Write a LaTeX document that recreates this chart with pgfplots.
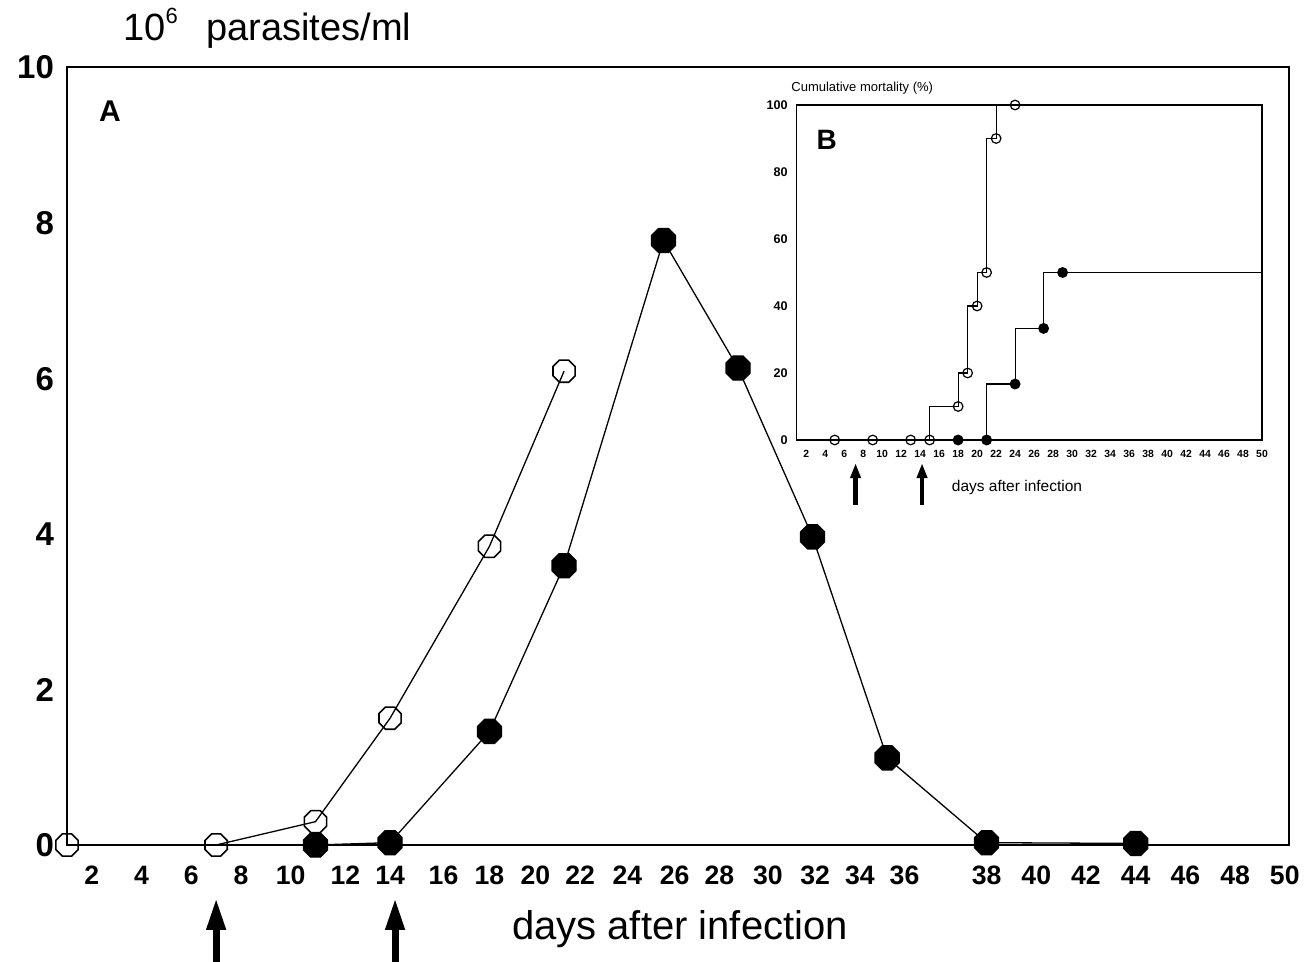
\documentclass[border=0pt]{standalone}
\usepackage{fontspec}
\setmainfont{Liberation Sans}
\usepackage{pgfplots}
\pgfplotsset{compat=1.18}
\usetikzlibrary{arrows.meta}

% flat-topped octagon marks, as in the scan
\pgfdeclareplotmark{oct}{%
  \pgfpathmoveto{\pgfpointpolar{22.5}{\pgfplotmarksize}}%
  \pgfpathlineto{\pgfpointpolar{67.5}{\pgfplotmarksize}}%
  \pgfpathlineto{\pgfpointpolar{112.5}{\pgfplotmarksize}}%
  \pgfpathlineto{\pgfpointpolar{157.5}{\pgfplotmarksize}}%
  \pgfpathlineto{\pgfpointpolar{202.5}{\pgfplotmarksize}}%
  \pgfpathlineto{\pgfpointpolar{247.5}{\pgfplotmarksize}}%
  \pgfpathlineto{\pgfpointpolar{292.5}{\pgfplotmarksize}}%
  \pgfpathlineto{\pgfpointpolar{337.5}{\pgfplotmarksize}}%
  \pgfpathclose
  \pgfusepathqstroke}
\pgfdeclareplotmark{oct*}{%
  \pgfpathmoveto{\pgfpointpolar{22.5}{\pgfplotmarksize}}%
  \pgfpathlineto{\pgfpointpolar{67.5}{\pgfplotmarksize}}%
  \pgfpathlineto{\pgfpointpolar{112.5}{\pgfplotmarksize}}%
  \pgfpathlineto{\pgfpointpolar{157.5}{\pgfplotmarksize}}%
  \pgfpathlineto{\pgfpointpolar{202.5}{\pgfplotmarksize}}%
  \pgfpathlineto{\pgfpointpolar{247.5}{\pgfplotmarksize}}%
  \pgfpathlineto{\pgfpointpolar{292.5}{\pgfplotmarksize}}%
  \pgfpathlineto{\pgfpointpolar{337.5}{\pgfplotmarksize}}%
  \pgfpathclose
  \pgfusepathqfillstroke}

\pgfplotsset{/pgf/number format/assume math mode=true}

\begin{document}
\begin{tikzpicture}
% ---- A: parasitaemia
\begin{axis}[
    at={(0,0)}, anchor=south west,
    scale only axis, width=611pt, height=389pt,
    xmin=1, xmax=50.17, ymin=0, ymax=10,
    axis line style={line width=0.7pt},
    tick style={draw=none},
    xtick={2,4,6,8,10,12.2,14,16.15,18,19.85,21.65,23.55,25.45,27.25,29.2,31.1,32.9,34.7,38,40,42,44,46,48,50},
    xticklabels={2,4,6,8,10,12,14,16,18,20,22,24,26,28,30,32,34,36,38,40,42,44,46,48,50},
    ytick={0,2,...,10},
    xticklabel style={font=\bfseries\fontsize{13.3}{13.3}\selectfont,
        text height=9.6pt, text depth=0pt, yshift=-6.7pt},
    yticklabel style={font=\bfseries\fontsize{16.5}{16.5}\selectfont,
        text height=11.9pt, text depth=0pt, xshift=-3pt},
    clip=false,
]
\addplot[black, line width=0.65pt, mark=oct, mark size=6pt,
    mark options={line width=0.8pt}]
    coordinates {(1,0) (7,0) (11,0.30) (14,1.63) (18,3.84) (21,6.09)};
\addplot[black, line width=0.65pt, mark=oct*, mark size=6.5pt,
    mark indices={3,4,5,6,7,8,9,10,11,12}]
    coordinates {(1,0) (7,0) (11,0) (14,0.03) (18,1.46) (21,3.59) (25,7.77)
                 (28,6.13) (31,3.96) (34,1.12) (38,0.03) (44,0.02)};
\draw[line width=3.5pt, -{Triangle[length=16pt, width=9pt]}]
    (axis cs:7,-1.6) -- (axis cs:7,-0.68);
\draw[line width=3.5pt, -{Triangle[length=16pt, width=9pt]}]
    (axis cs:14.2,-1.6) -- (axis cs:14.2,-0.68);
\end{axis}

% ---- B: cumulative mortality (inset)
\begin{axis}[
    at={(364.85pt,202.5pt)}, anchor=south west,
    scale only axis, width=232.65pt, height=167.5pt,
    xmin=1, xmax=50, ymin=0, ymax=100,
    axis line style={line width=0.7pt},
    tick style={draw=none},
    xtick={2,4,...,50}, ytick={0,20,...,100},
    xticklabel style={font=\bfseries\fontsize{5.2}{5.5}\selectfont,
        text height=3.8pt, text depth=0pt, yshift=-1.5pt},
    yticklabel style={font=\bfseries\fontsize{6.3}{6.5}\selectfont,
        text height=4.6pt, text depth=0pt, xshift=-1pt},
    clip=false,
]
\addplot[black, line width=0.6pt, const plot mark right, mark=o, mark size=2.4pt,
    mark options={line width=0.6pt}, mark indices={2,3,4,5,6,7,8,9,10,11}]
    coordinates {(1,0) (5,0) (9,0) (13,0) (15,0) (18,10) (19,20) (20,40)
                 (21,50) (22,90) (24,100)};
\addplot[black, line width=0.6pt, const plot mark right, mark=*, mark size=2.4pt,
    mark indices={1,2,3,4,5}]
    coordinates {(18,0) (21,0) (24,16.7) (27,33.3) (29,50) (50,50)};
\draw[line width=2.4pt, -{Triangle[length=7.5pt, width=5pt]}]
    (axis cs:7.2,-19.4) -- (axis cs:7.2,-6.9);
\draw[line width=2.4pt, -{Triangle[length=7.5pt, width=5pt]}]
    (axis cs:14.2,-19.4) -- (axis cs:14.2,-6.9);
\end{axis}

% ---- texts
\node[anchor=base west, inner sep=0, font=\fontsize{19}{19}\selectfont]
    at (28pt,402pt) {10\raisebox{0.45em}{\fontsize{11}{11}\selectfont 6}\hspace{0.75em}parasites/ml};
\node[anchor=base, inner sep=0, font=\fontsize{20}{20}\selectfont]
    at (306.5pt,-47.5pt) {days after infection};
\node[font=\bfseries\fontsize{15}{15}\selectfont] at (21.5pt,367pt) {A};
\node[font=\bfseries\fontsize{14}{14}\selectfont] at (379.85pt,352.5pt) {B};
\node[anchor=west, inner sep=0, font=\fontsize{6.5}{7}\selectfont]
    at (362pt,378.5pt) {Cumulative mortality (\%)};
\node[inner sep=0, font=\fontsize{7.75}{8}\selectfont]
    at (475pt,178.5pt) {days after infection};

\pgfresetboundingbox
\useasboundingbox (-33.5pt,-58.5pt) rectangle (619.5pt,422.5pt);
\end{tikzpicture}
\end{document}
